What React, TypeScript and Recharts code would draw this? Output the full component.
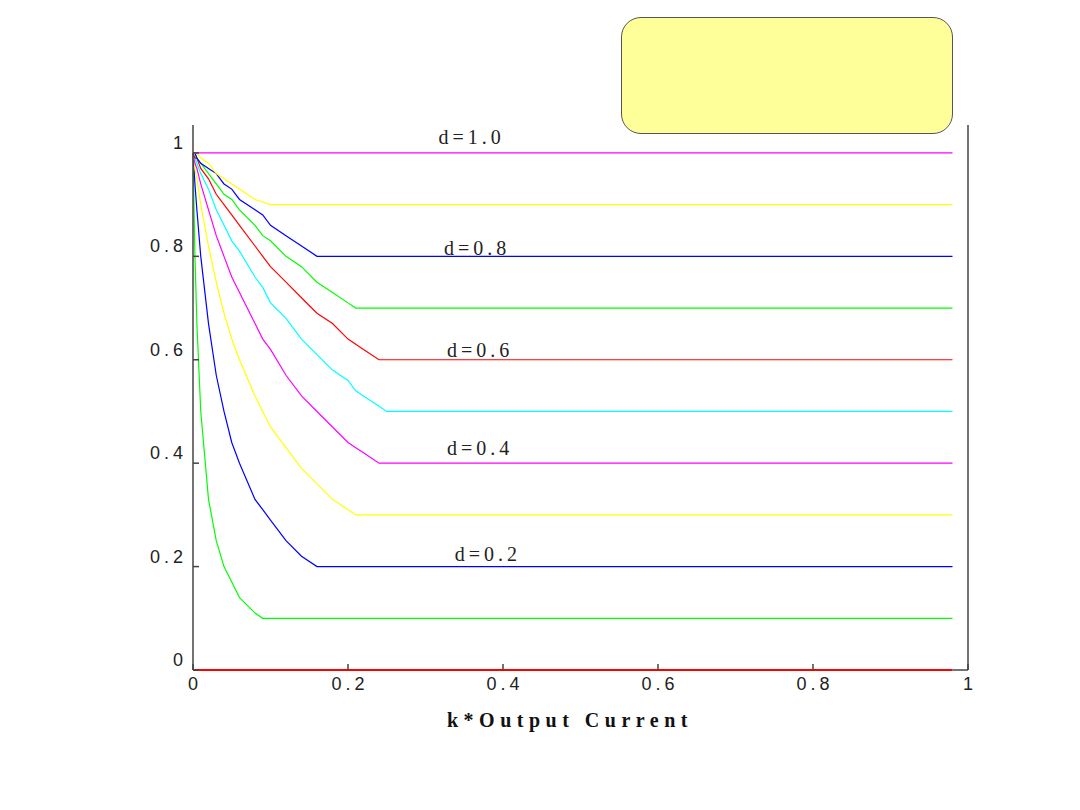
import React from "react";
import { LineChart, Line, XAxis, YAxis, ReferenceDot, ReferenceLine } from "recharts";

// x values: k * Output Current
const X = [0, 0.0025, 0.005, 0.01, 0.02, 0.03, 0.04, 0.05, 0.06, 0.08, 0.09, 0.1, 0.12, 0.14, 0.16, 0.18, 0.2, 0.21, 0.22, 0.24, 0.25, 0.98];

// one array per duty cycle d
const D00 = [0, 0, 0, 0, 0, 0, 0, 0, 0, 0, 0, 0, 0, 0, 0, 0, 0, 0, 0, 0, 0, 0];
const D01 = [1, 0.8, 0.67, 0.5, 0.33, 0.25, 0.2, 0.17, 0.14, 0.11, 0.1, 0.1, 0.1, 0.1, 0.1, 0.1, 0.1, 0.1, 0.1, 0.1, 0.1, 0.1];
const D02 = [1, 0.94, 0.89, 0.8, 0.67, 0.57, 0.5, 0.44, 0.4, 0.33, 0.31, 0.29, 0.25, 0.22, 0.2, 0.2, 0.2, 0.2, 0.2, 0.2, 0.2, 0.2];
const D03 = [1, 0.97, 0.95, 0.9, 0.82, 0.75, 0.69, 0.64, 0.6, 0.53, 0.5, 0.47, 0.43, 0.39, 0.36, 0.33, 0.31, 0.3, 0.3, 0.3, 0.3, 0.3];
const D04 = [1, 0.98, 0.97, 0.94, 0.89, 0.84, 0.8, 0.76, 0.73, 0.67, 0.64, 0.62, 0.57, 0.53, 0.5, 0.47, 0.44, 0.43, 0.42, 0.4, 0.4, 0.4];
const D05 = [1, 0.99, 0.98, 0.96, 0.93, 0.89, 0.86, 0.83, 0.81, 0.76, 0.74, 0.71, 0.68, 0.64, 0.61, 0.58, 0.56, 0.54, 0.53, 0.51, 0.5, 0.5];
const D06 = [1, 0.99, 0.99, 0.97, 0.95, 0.92, 0.9, 0.88, 0.86, 0.82, 0.8, 0.78, 0.75, 0.72, 0.69, 0.67, 0.64, 0.63, 0.62, 0.6, 0.6, 0.6];
const D07 = [1, 1, 0.99, 0.98, 0.96, 0.94, 0.92, 0.91, 0.89, 0.86, 0.84, 0.83, 0.8, 0.78, 0.75, 0.73, 0.71, 0.7, 0.7, 0.7, 0.7, 0.7];
const D08 = [1, 1, 0.99, 0.98, 0.97, 0.96, 0.94, 0.93, 0.91, 0.89, 0.88, 0.86, 0.84, 0.82, 0.8, 0.8, 0.8, 0.8, 0.8, 0.8, 0.8, 0.8];
const D09 = [1, 1, 1, 0.99, 0.98, 0.96, 0.95, 0.94, 0.93, 0.91, 0.905, 0.9, 0.9, 0.9, 0.9, 0.9, 0.9, 0.9, 0.9, 0.9, 0.9, 0.9];
const D10 = [1, 1, 1, 1, 1, 1, 1, 1, 1, 1, 1, 1, 1, 1, 1, 1, 1, 1, 1, 1, 1, 1];

const SERIES = [
  { key: "d01", values: D01, color: "#00ff00" },
  { key: "d02", values: D02, color: "#0000ff" },
  { key: "d03", values: D03, color: "#ffff00" },
  { key: "d04", values: D04, color: "#ff00ff" },
  { key: "d05", values: D05, color: "#00ffff" },
  { key: "d06", values: D06, color: "#ff0000" },
  { key: "d07", values: D07, color: "#00ff00" },
  { key: "d08", values: D08, color: "#0000ff" },
  { key: "d09", values: D09, color: "#ffff00" },
  { key: "d10", values: D10, color: "#ff00ff" },
  { key: "d00", values: D00, color: "#ff0000" },
];

const X_TICKS = [0, 0.2, 0.4, 0.6, 0.8, 1];
const Y_TICKS = [0, 0.2, 0.4, 0.6, 0.8, 1];

const LABEL_TEXT = ["d=1.0", "d=0.8", "d=0.6", "d=0.4", "d=0.2"];
const LABEL_X = [0.357, 0.364, 0.368, 0.368, 0.378];
const LABEL_Y = [1.018, 0.802, 0.605, 0.415, 0.211];

const X_LABEL = "k*Output Current";
const X_MAX = 1;
const LAST_X = X[X.length - 1];

const data = X.map((x, i) => {
  const row: Record<string, number> = { x };
  SERIES.forEach((s) => {
    row[s.key] = s.values[i];
  });
  return row;
});

const fmt = (v: number) => (v === 0 ? "0" : v === 1 ? "1" : String(v));

const TICK_FONT = { fontFamily: "Liberation Sans, Arial, sans-serif", fontSize: 18, letterSpacing: 4, fill: "#222" };

const YTick = (props: any) => {
  const { x, y, payload } = props;
  return (
    <text x={x - 6} y={y - 4} textAnchor="end" style={TICK_FONT}>
      {fmt(payload.value)}
    </text>
  );
};

const XTick = (props: any) => {
  const { x, y, payload } = props;
  return (
    <text x={x + 2} y={y + 20} textAnchor="middle" style={TICK_FONT}>
      {fmt(payload.value)}
    </text>
  );
};

const NoTick = () => <g />;

const DLabel = (text: string) => (props: any) => {
  const vb = props.viewBox || {};
  const cx = vb.cx !== undefined ? vb.cx : vb.x + (vb.width || 0) / 2;
  const cy = vb.cy !== undefined ? vb.cy : vb.y + (vb.height || 0) / 2;
  return (
    <text
      x={cx + 2}
      y={cy}
      textAnchor="middle"
      style={{ fontFamily: "Liberation Serif, Times New Roman, serif", fontSize: 20, letterSpacing: 4, fill: "#222" }}
    >
      {text}
    </text>
  );
};

export default function App() {
  return (
    <div style={{ position: "absolute", left: 0, top: 0, width: 1080, height: 810, background: "#fff" }}>
      <div
        style={{
          position: "absolute",
          left: 621,
          top: 17,
          width: 330,
          height: 115,
          background: "#ffff99",
          border: "1.5px solid #555",
          borderRadius: 20,
        }}
      />
      <LineChart width={1080} height={810} data={data} margin={{ top: 125, right: 0, bottom: 0, left: 0 }}>
        <XAxis
          dataKey="x"
          type="number"
          domain={[0, 1]}
          ticks={X_TICKS}
          height={140}
          tickSize={-6}
          tickMargin={6}
          tick={<XTick />}
          axisLine={false}
          stroke="#444"
          strokeWidth={1.5}
        />
        <YAxis
          type="number"
          domain={[0, 1.054]}
          ticks={Y_TICKS}
          width={193}
          tickSize={-6}
          tickMargin={6}
          tick={<YTick />}
          stroke="#444"
          strokeWidth={1.5}
        />
        <YAxis
          yAxisId="r"
          orientation="right"
          type="number"
          domain={[0, 1.054]}
          ticks={Y_TICKS}
          width={112}
          tickSize={6}
          tick={<NoTick />}
          stroke="#444"
          strokeWidth={1.5}
        />
        <ReferenceLine
          segment={[
            { x: LAST_X, y: 0 },
            { x: X_MAX, y: 0 },
          ]}
          stroke="#444"
          strokeWidth={1.5}
          ifOverflow="visible"
        />
        {SERIES.map((s) => (
          <Line
            key={s.key}
            dataKey={s.key}
            type="linear"
            stroke={s.color}
            strokeWidth={s.key === "d00" ? 2 : 1.2}
            dot={false}
            activeDot={false}
            isAnimationActive={false}
          />
        ))}
        {LABEL_TEXT.map((t, i) => (
          <ReferenceDot
            key={t}
            x={LABEL_X[i]}
            y={LABEL_Y[i]}
            r={0}
            fill="none"
            stroke="none"
            label={DLabel(t)}
            ifOverflow="visible"
          />
        ))}
      </LineChart>
      <div
        style={{
          position: "absolute",
          left: 370,
          width: 400,
          top: 709,
          textAlign: "center",
          fontFamily: "Liberation Serif, Times New Roman, serif",
          fontWeight: "bold",
          fontSize: 20,
          letterSpacing: 5.5,
          color: "#111",
        }}
      >
        {X_LABEL}
      </div>
    </div>
  );
}
